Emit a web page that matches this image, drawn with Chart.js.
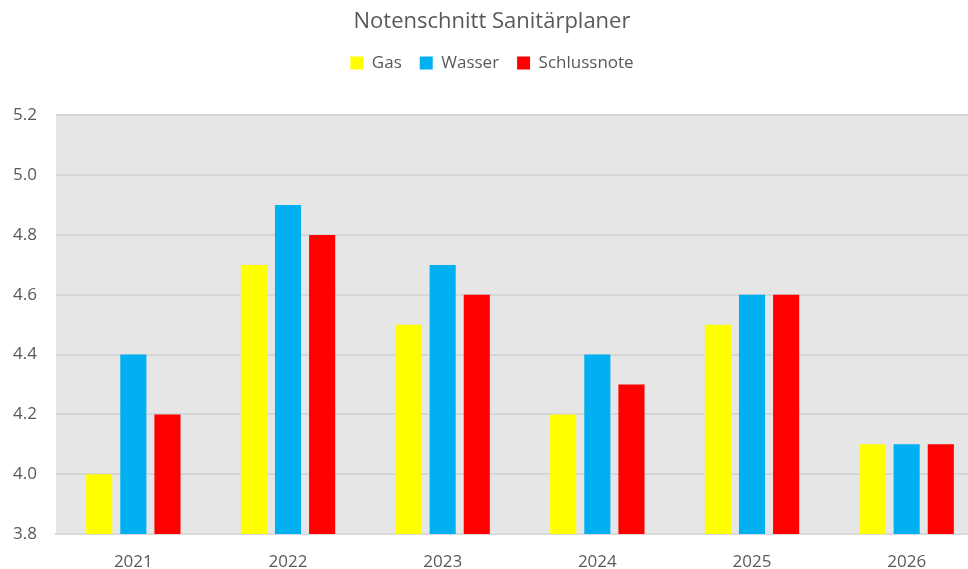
<!DOCTYPE html>
<html>
<head>
<meta charset="utf-8">
<title>Notenschnitt Sanitärplaner</title>
<script src="https://cdn.jsdelivr.net/npm/chart.js@4/dist/chart.umd.min.js"></script>
<style>
    html, body { margin: 0; padding: 0; background: #ffffff; overflow: hidden; }
    #wrap { width: 968px; height: 569px; overflow: hidden; }
</style>
</head>
<body>
<div id="wrap"><canvas id="chart" width="984" height="569"></canvas></div>
<script>
const years = ['2021', '2022', '2023', '2024', '2025', '2026'];
const gas = [4.0, 4.7, 4.5, 4.2, 4.5, 4.1];
const wasser = [4.4, 4.9, 4.7, 4.4, 4.6, 4.1];
const schlussnote = [4.2, 4.8, 4.6, 4.3, 4.6, 4.1];

const textColor = '#595959';
const fontFamily = '"Open Sans", "Liberation Sans", sans-serif';

// grey plot area like the Excel template
const plotBackground = {
    id: 'plotBackground',
    beforeDraw(chart) {
        const { ctx, chartArea } = chart;
        ctx.save();
        ctx.fillStyle = '#e6e6e6';
        ctx.fillRect(chartArea.left, chartArea.top, chartArea.right - chartArea.left, chartArea.bottom - chartArea.top);
        ctx.restore();
    }
};

const ctx = document.getElementById('chart').getContext('2d');

new Chart(ctx, {
    type: 'bar',
    data: {
        labels: years,
        datasets: [
            { label: 'Gas', data: gas, backgroundColor: '#ffff00' },
            { label: 'Wasser', data: wasser, backgroundColor: '#00b0f0' },
            { label: 'Schlussnote', data: schlussnote, backgroundColor: '#ff0000' }
        ]
    },
    options: {
        responsive: false,
        animation: false,
        categoryPercentage: 0.662,
        barPercentage: 0.765,
        layout: { padding: 0 },
        plugins: {
            title: {
                display: true,
                text: 'Notenschnitt Sanitärplaner',
                color: textColor,
                font: { family: fontFamily, size: 22, weight: 'normal' },
                padding: { top: 9, bottom: 1 }
            },
            // empty subtitle used as spacer between legend and plot
            subtitle: {
                display: true,
                text: '',
                weight: 500,
                font: { size: 10, lineHeight: 1 },
                padding: { top: 12, bottom: 12 }
            },
            legend: {
                position: 'top',
                labels: {
                    color: textColor,
                    font: { family: fontFamily, size: 17 },
                    boxWidth: 13,
                    boxHeight: 13,
                    padding: 18
                }
            },
            tooltip: { enabled: false }
        },
        scales: {
            x: {
                grid: { display: false, drawTicks: false },
                border: { color: '#d9d9d9', width: 2 },
                ticks: {
                    color: textColor,
                    font: { family: fontFamily, size: 17 },
                    padding: 18
                },
                afterFit(scale) { scale.height = 35; }
            },
            y: {
                min: 3.8,
                max: 5.2,
                grid: { color: '#d6d6d6', lineWidth: 2, drawTicks: false },
                border: { display: false },
                ticks: {
                    stepSize: 0.2,
                    color: textColor,
                    font: { family: fontFamily, size: 17 },
                    padding: 19,
                    callback: v => Number(v).toFixed(1)
                },
                afterFit(scale) { scale.width = 56; }
            }
        }
    },
    plugins: [plotBackground]
});
</script>
</body>
</html>
